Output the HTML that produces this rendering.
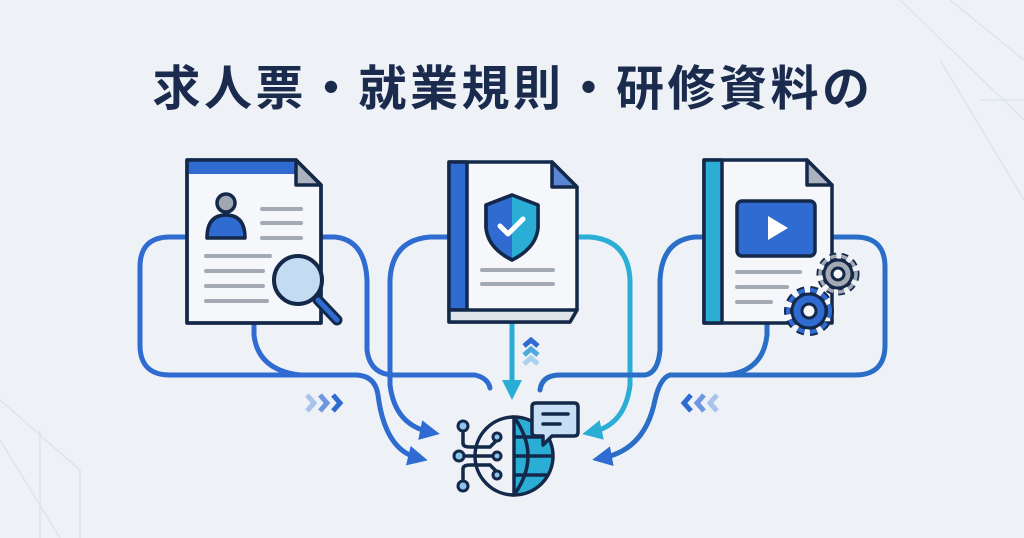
<!DOCTYPE html>
<html><head><meta charset="utf-8"><style>
html,body{margin:0;padding:0;background:#eef2f7;}
svg{display:block}
</style></head><body>
<svg width="1024" height="538" viewBox="0 0 1024 538" xmlns="http://www.w3.org/2000/svg">
<defs>
<marker id="ab" viewBox="0 0 10 10" refX="5" refY="5" markerWidth="4" markerHeight="4" orient="auto"><path d="M0,0 L10,5 L0,10 z" fill="#2f6bd0"/></marker>
<marker id="ac" viewBox="0 0 10 10" refX="5" refY="5" markerWidth="4" markerHeight="4" orient="auto"><path d="M0,0 L10,5 L0,10 z" fill="#2aaed6"/></marker>
</defs>
<rect width="1024" height="538" fill="#eef2f7"/>
<g stroke="#dde4ee" fill="none" stroke-width="1.5">
<path d="M0,400 L80,470 L80,538 M0,440 L60,538 M40,430 L40,538 M900,0 L1024,120 M950,0 L1024,60 M940,60 L1024,200 M980,100 L1024,100"/>
</g>
<text x="513" y="105" text-anchor="middle" font-family="'Liberation Sans','Noto Sans CJK JP',sans-serif" font-weight="700" font-size="48" fill="#1b2b4d" letter-spacing="3.5">求人票・就業規則・研修資料の</text>

<g fill="none" stroke-width="5" stroke-linecap="round">
<path d="M185,237 H170 Q140,237 140,267 V345 Q140,375 170,375 H355 Q375,375 378,395 Q385,450 418,458" stroke="#2f6bd0" marker-end="url(#ab)"/>
<path d="M254,323 V335 Q258,370 300,375" stroke="#2f6bd0"/>
<path d="M320,237 H335 Q365,240 367,280 V350 Q370,375 395,375 H475 Q488,378 490,388" stroke="#2f6bd0"/>
<path d="M447,237 H430 Q392,240 390,280 V385 Q395,425 430,432" stroke="#2f6bd0" marker-end="url(#ab)"/>
<path d="M512,323 V390" stroke="#2aaed6" marker-end="url(#ac)"/>
<path d="M577,237 H590 Q628,240 630,280 V385 Q625,425 592,432" stroke="#2aaed6" marker-end="url(#ac)"/>
<path d="M540,390 Q542,375 560,375 H645 Q658,373 660,350 V280 Q662,240 695,237 H702" stroke="#2a6ec8"/>
<path d="M767,323 V335 Q763,372 725,375" stroke="#2a6ec8"/>
<path d="M832,237 H855 Q885,237 885,267 V345 Q885,375 855,375 H670 Q660,378 655,400 Q645,450 602,458" stroke="#2a6ec8" marker-end="url(#ab)"/>
</g>

<g fill="none" stroke-width="5">
<path d="M307,395 l7,8 l-7,8" stroke="#a9c3ee"/><path d="M320,395 l7,8 l-7,8" stroke="#6f97e0"/><path d="M333,395 l7,8 l-7,8" stroke="#2f6bd0"/>
<path d="M717,395 l-7,8 l7,8" stroke="#a9c3ee"/><path d="M704,395 l-7,8 l7,8" stroke="#6f97e0"/><path d="M691,395 l-7,8 l7,8" stroke="#2f6bd0"/>
<path d="M524,346 l7,-6 l7,6" stroke="#2f6bd0"/><path d="M524,355 l7,-6 l7,6" stroke="#4fa9dc"/><path d="M524,364 l7,-6 l7,6" stroke="#a9d2ee"/>
</g>

<g stroke="#14284a" stroke-width="3.5" stroke-linejoin="round">
<path d="M187,160 H296 L321,185 V323 H187 Z" fill="#f5f7fb"/>
<path d="M187,160 H296 V174 H187 Z" fill="#2f6bd0" stroke="none"/>
<path d="M296,160 V185 H321 Z" fill="#a9b2bd"/>
<path d="M187,160 H296 L321,185 V323 H187 Z" fill="none"/>
<circle cx="226" cy="203" r="9" fill="#a0a7b1"/>
<path d="M207,238 Q207,215 226,215 Q245,215 245,238 Z" fill="#2f6bd0"/>
</g>
<g stroke="#a3aab4" stroke-width="4" stroke-linecap="round">
<line x1="262" y1="209" x2="301" y2="209"/><line x1="262" y1="223" x2="301" y2="223"/><line x1="262" y1="238" x2="301" y2="238"/>
<line x1="206" y1="256" x2="270" y2="256"/><line x1="206" y1="271" x2="263" y2="271"/><line x1="206" y1="286" x2="263" y2="286"/><line x1="206" y1="301" x2="267" y2="301"/>
</g>
<line x1="318" y1="300" x2="337" y2="320" stroke="#14284a" stroke-width="11" stroke-linecap="round"/>
<line x1="318" y1="300" x2="337" y2="320" stroke="#2f6bd0" stroke-width="5" stroke-linecap="round"/>
<circle cx="298" cy="280" r="24" fill="#c3dcf2" stroke="#14284a" stroke-width="4"/>

<g stroke="#14284a" stroke-width="3.5" stroke-linejoin="round">
<path d="M449,162 H552 L577,187 V310 L570,322 H449 Z" fill="#f5f7fb"/>
<rect x="449" y="162" width="18" height="148" fill="#2f6bd0"/>
<path d="M552,162 V187 H577 Z" fill="#5b86d6"/>
<path d="M449,310 H577 L570,322 H449 Z" fill="#dfe4ea"/>
<path d="M512,195 L538,205 V228 Q536,248 512,260 Q488,248 486,228 V205 Z" fill="#2f6bd0"/>
<path d="M512,195 L538,205 V228 Q536,248 512,260 Z" fill="#2aaed6" stroke="none"/>
<path d="M512,195 L538,205 V228 Q536,248 512,260 Q488,248 486,228 V205 Z" fill="none"/>
</g>
<path d="M500,226 l8,8 l15,-15" fill="none" stroke="#fff" stroke-width="5" stroke-linecap="round" stroke-linejoin="round"/>
<g stroke="#a3aab4" stroke-width="4" stroke-linecap="round"><line x1="482" y1="270" x2="553" y2="270"/><line x1="482" y1="284" x2="553" y2="284"/></g>

<g stroke="#14284a" stroke-width="3.5" stroke-linejoin="round">
<path d="M704,160 H807 L832,185 V323 H704 Z" fill="#f5f7fb"/>
<rect x="704" y="160" width="18" height="163" fill="#2aaed6"/>
<path d="M807,160 V185 H832 Z" fill="#a9b2bd"/>
<rect x="737" y="201" width="78" height="55" rx="5" fill="#2f6bd0"/>
</g>
<path d="M768,216 L788,228 L768,240 Z" fill="#fff"/>
<g stroke="#a3aab4" stroke-width="4" stroke-linecap="round"><line x1="737" y1="272" x2="800" y2="272"/><line x1="737" y1="287" x2="787" y2="287"/><line x1="737" y1="302" x2="771" y2="302"/></g>
<g stroke="#14284a" stroke-width="3">
<circle cx="838" cy="274" r="18" fill="none" stroke="#14284a" stroke-width="7" stroke-dasharray="6 5"/>
<circle cx="838" cy="274" r="18" fill="none" stroke="#a3aab4" stroke-width="3.5" stroke-dasharray="6 5"/>
<circle cx="838" cy="274" r="14" fill="#a3aab4"/>
<circle cx="838" cy="274" r="6" fill="#f5f7fb"/>
<circle cx="809" cy="311" r="21" fill="none" stroke="#14284a" stroke-width="8" stroke-dasharray="7 5.5"/>
<circle cx="809" cy="311" r="21" fill="none" stroke="#2f6bd0" stroke-width="4" stroke-dasharray="7 5.5"/>
<circle cx="809" cy="311" r="17" fill="#2f6bd0"/>
<circle cx="809" cy="311" r="7" fill="#f5f7fb"/>
</g>

<g stroke="#14284a" stroke-width="3.5" fill="none">
<path d="M514,417 A39,39 0 0 1 514,495 Z" fill="#2aaed6"/>
<path d="M514,417 A39,39 0 0 0 514,495"/>
<path d="M514,417 Q542,456 514,495 M514,437 H548 M514,456 H553 M514,475 H548"/>
<path d="M463,428 V443 Q463,447 470,447 H490 L500,437 M463,456 H500 M463,484 V469 Q463,465 470,465 H490 L500,475"/>
</g>
<g fill="#8ec3ec" stroke="#14284a" stroke-width="3">
<circle cx="463" cy="426" r="5"/><circle cx="459" cy="456" r="5"/><circle cx="463" cy="486" r="5"/>
<circle cx="497" cy="437" r="4"/><circle cx="497" cy="456" r="4"/><circle cx="497" cy="475" r="4"/>
</g>
<g stroke="#14284a" stroke-width="3.5" stroke-linejoin="round">
<path d="M536,403 H574 Q578,403 578,407 V432 Q578,436 574,436 H552 L543,445 V436 H536 Q532,436 532,432 V407 Q532,403 536,403 Z" fill="#c6dff4"/>
</g>
<g stroke="#14284a" stroke-width="3.5" stroke-linecap="round"><line x1="543" y1="414" x2="568" y2="414"/><line x1="543" y1="424" x2="560" y2="424"/></g>
</svg>
</body></html>
